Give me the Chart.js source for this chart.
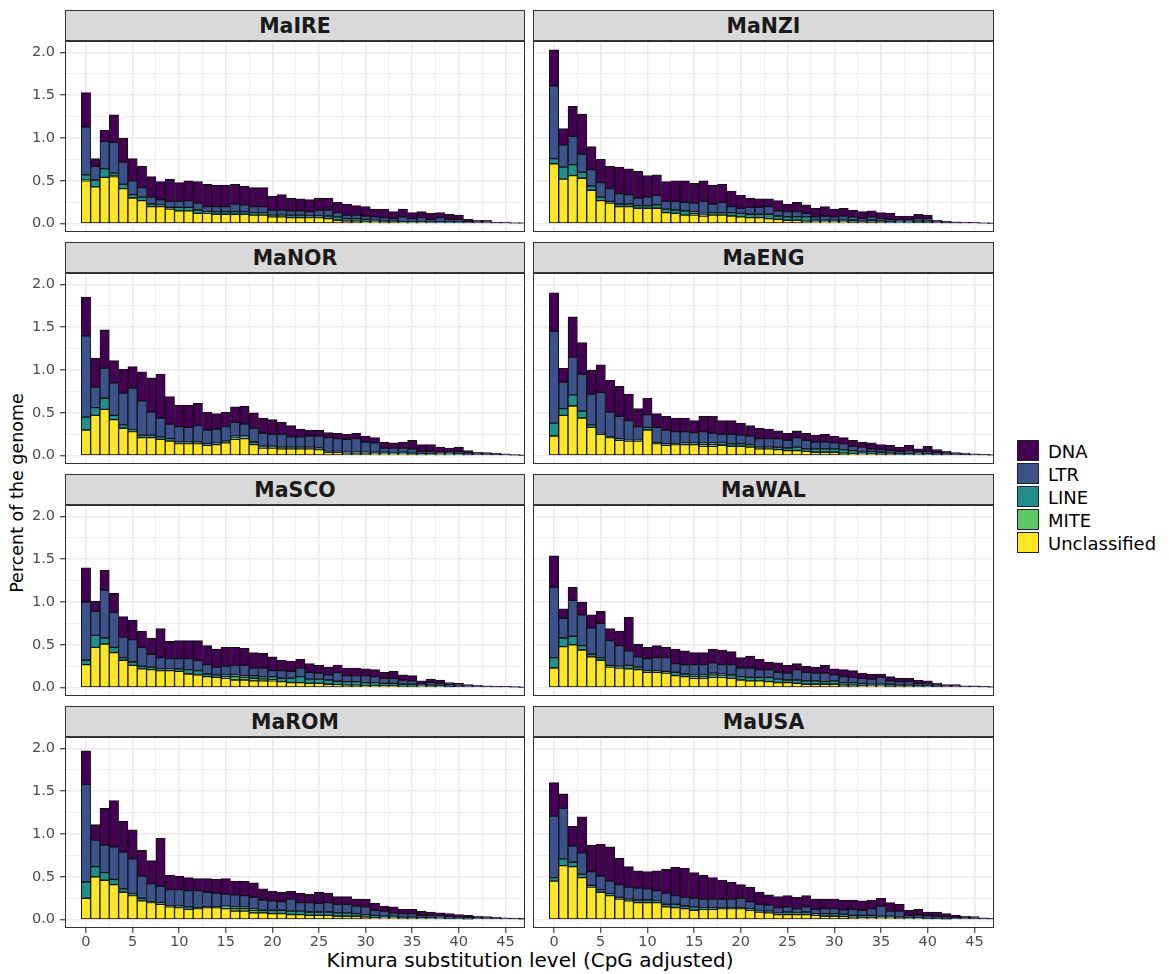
<!DOCTYPE html>
<html><head><meta charset="utf-8">
<script src="https://cdn.jsdelivr.net/npm/chart.js@4.4.1/dist/chart.umd.min.js"></script>
<style>
html,body{margin:0;padding:0;background:#fff}
body{position:relative;width:1169px;height:974px;overflow:hidden;font-family:"DejaVu Sans",sans-serif}
.strip{position:absolute;box-sizing:border-box;background:#D9D9D9;border:1px solid #333;font-weight:bold;font-size:20.5px;color:#1A1A1A;display:flex;align-items:center;justify-content:center}
canvas{position:absolute}
#ytitle{position:absolute;left:17px;top:493px;transform:translate(-50%,-50%) rotate(-90deg);white-space:nowrap;font-size:17.5px;color:#000}
#xtitle{position:absolute;left:530px;top:960px;transform:translate(-50%,-50%);white-space:nowrap;font-size:20px;color:#000}
.lbox{position:absolute;box-sizing:border-box;width:22px;height:21px;border:1px solid #222}
.ltxt{position:absolute;font-size:18px;color:#000;transform:translateY(-50%);white-space:nowrap}
</style>
</head><body>
<div id="ytitle">Percent of the genome</div>
<div id="xtitle">Kimura substitution level (CpG adjusted)</div>
<script>
const kimura = [0,1,2,3,4,5,6,7,8,9,10,11,12,13,14,15,16,17,18,19,20,21,22,23,24,25,26,27,28,29,30,31,32,33,34,35,36,37,38,39,40,41,42,43,44,45,46,47];
const seriesNames = ['DNA','LTR','LINE','MITE','Unclassified'];
const seriesColors = ['#440154','#3B528B','#21908C','#5DC863','#FDE725'];
const facetNames = ['MaIRE','MaNZI','MaNOR','MaENG','MaSCO','MaWAL','MaROM','MaUSA'];
const yTickValues = [0,0.5,1,1.5,2];
const yTickLabels = ['0.0','0.5','1.0','1.5','2.0'];
const xTickValues = [0,5,10,15,20,25,30,35,40,45];
const xTickLabels = ['0','5','10','15','20','25','30','35','40','45'];

// MaIRE
const maIRE_Unclassified = [.50,.43,.54,.55,.41,.30,.27,.20,.20,.17, .15,.15,.12,.12,.11,.11,.11,.11,.10,.10, .08,.08,.07,.07,.07,.07,.06,.04,.03,.03, .02,.02,.01,.01,.01,.01,.01,0,0,0, 0,0,0,0,0,0,0,0];
const maIRE_MITE = [.01,0,0,.01,0,0,0,0,0,0, 0,0,0,0,0,0,0,0,0,0, 0,0,0,0,0,0,0,0,0,0, 0,0,0,0,0,0,0,0,0,0, 0,0,0,0,0,0,0,0];
const maIRE_LINE = [.06,.08,.10,.03,.05,.04,.04,.03,.02,.02, .04,.04,.04,.02,.03,.03,.03,.03,.03,.03, .02,.02,.03,.03,.02,.02,.03,.04,.03,.03, .03,.02,.02,.02,.01,.01,.01,.02,.02,.02, .02,0,0,0,0,0,0,0];
const maIRE_LTR = [.56,.16,.32,.36,.26,.16,.11,.08,.06,.07, .07,.08,.08,.06,.06,.06,.09,.08,.07,.07, .06,.06,.05,.05,.05,.07,.07,.05,.04,.04, .04,.04,.04,.03,.06,.04,.05,.03,.05,.03, .03,.02,.02,.02,.01,.01,.005,.005];
const maIRE_DNA = [.40,.09,.13,.32,.28,.26,.25,.24,.21,.26, .22,.23,.25,.26,.25,.25,.23,.22,.22,.22, .16,.18,.15,.14,.14,.14,.14,.12,.13,.11, .11,.09,.10,.08,.09,.07,.07,.07,.06,.06, .05,.03,.02,.02,.01,.01,.005,.005];

// MaNZI
const maNZI_Unclassified = [.70,.52,.56,.53,.39,.27,.24,.20,.20,.18, .18,.18,.13,.12,.10,.10,.09,.10,.10,.09, .08,.07,.07,.06,.05,.04,.04,.03,.02,.02, .02,.02,.01,.01,.01,.01,0,0,0,0, 0,0,0,0,0,0,0,0];
const maNZI_MITE = [0,0,0,0,0,0,0,0,0,0, 0,0,0,0,0,.02,.02,0,0,0, 0,0,0,0,0,0,0,0,0,0, 0,0,0,0,0,0,0,0,0,0, 0,0,0,0,0,0,0,0];
const maNZI_LINE = [.06,.14,.13,.07,.05,.04,.02,.03,.03,.03, .03,.04,.04,.04,.05,.02,.01,.03,.03,.04, .04,.04,.04,.05,.04,.04,.04,.05,.02,.02, .02,.02,.03,.02,.03,.02,.02,.02,.02,.03, .03,0,0,0,0,0,0,0];
const maNZI_LTR = [.85,.26,.33,.21,.19,.17,.15,.12,.11,.09, .10,.11,.09,.10,.10,.10,.14,.10,.12,.07, .06,.08,.08,.09,.06,.06,.06,.04,.04,.05, .04,.05,.04,.03,.04,.03,.03,.02,.02,.03, .03,.02,.01,.01,.01,.008,.005,.004];
const maNZI_DNA = [.42,.19,.35,.47,.27,.27,.26,.31,.30,.31, .25,.24,.23,.24,.25,.23,.24,.22,.21,.18, .15,.11,.10,.09,.12,.09,.11,.10,.10,.11, .09,.09,.08,.08,.07,.07,.07,.05,.05,.05, .04,.02,.02,.013,.01,.007,.005,.004];

// MaNOR
const maNOR_Unclassified = [.30,.47,.54,.42,.32,.28,.21,.21,.19,.17, .14,.14,.14,.12,.13,.15,.19,.20,.13,.09, .09,.08,.08,.08,.08,.07,.04,.04,.03,.03, .03,.02,.02,.02,.02,.01,.01,.01,.01,.01, .01,0,0,0,0,0,0,0];
const maNOR_MITE = [0,0,0,0,0,0,0,0,0,0, 0,0,0,0,0,0,.02,.02,0,0, 0,0,0,0,0,0,0,0,0,0, 0,0,0,0,0,0,0,0,0,0, 0,0,0,0,0,0,0,0];
const maNOR_LINE = [.15,.09,.13,.05,.04,.02,.03,.03,.03,.03, .02,.02,.02,.02,.02,.02,.02,.01,.03,.02, .02,.02,.02,.02,.02,.02,.01,.01,.01,.01, .01,.02,.02,.01,.02,.02,.01,.01,.01,.01, .01,.01,0,0,0,0,0,0];
const maNOR_LTR = [.95,.24,.35,.38,.37,.49,.40,.27,.22,.17, .18,.17,.19,.16,.16,.17,.16,.14,.16,.15, .14,.15,.12,.12,.13,.14,.16,.15,.15,.16, .12,.11,.05,.06,.05,.05,.03,.03,.02,.02, .03,.02,.02,.015,.012,.01,.006,.004];
const maNOR_DNA = [.45,.34,.45,.26,.28,.25,.34,.40,.51,.32, .25,.26,.26,.21,.18,.17,.18,.21,.18,.18, .17,.14,.13,.09,.07,.07,.06,.06,.06,.06, .07,.06,.07,.06,.07,.10,.08,.08,.06,.05, .05,.03,.02,.02,.015,.013,.006,.004];

// MaENG
const maENG_Unclassified = [.23,.47,.58,.44,.33,.25,.21,.18,.17,.17, .30,.14,.12,.13,.13,.13,.11,.11,.12,.11, .11,.10,.08,.08,.07,.06,.06,.05,.04,.04, .04,.03,.02,.02,.02,.01,.01,0,0,0, 0,0,0,0,0,0,0,0];
const maENG_MITE = [0,0,0,0,0,0,0,0,0,0, 0,0,0,0,0,0,.02,.02,.01,0, 0,0,0,0,0,0,0,0,0,0, 0,0,0,0,0,0,0,0,0,0, 0,0,0,0,0,0,0,0];
const maENG_LINE = [.15,.08,.13,.08,.03,.01,.01,.02,.01,.01, .03,.01,.02,.01,.02,.02,.02,.02,.02,.03, .03,.03,.02,.02,.03,.03,.04,.03,.04,.04, .04,.04,.04,.02,.03,.03,.02,.02,.02,.02, .02,.01,.01,0,0,0,0,0];
const maENG_LTR = [1.07,.31,.44,.43,.36,.48,.29,.26,.23,.16, .15,.18,.16,.14,.13,.12,.13,.11,.10,.11, .10,.10,.10,.10,.10,.09,.11,.10,.08,.08, .07,.07,.05,.06,.03,.03,.03,.03,.04,.02, .03,.02,.02,.015,.013,.01,.008,.006];
const maENG_DNA = [.45,.16,.47,.37,.28,.32,.37,.35,.31,.21, .19,.16,.16,.16,.16,.14,.18,.20,.16,.16, .14,.12,.12,.11,.09,.08,.08,.08,.08,.09, .08,.07,.07,.06,.07,.06,.06,.05,.06,.04, .06,.04,.025,.02,.018,.013,.008,.006];

// MaSCO
const maSCO_Unclassified = [.27,.47,.51,.41,.32,.26,.22,.21,.20,.20, .19,.16,.15,.13,.12,.11,.09,.09,.08,.08, .08,.07,.06,.06,.05,.05,.04,.035,.03,.03, .02,.02,.02,.02,.01,.01,.01,.01,.01,0, 0,0,0,0,0,0,0,0];
const maSCO_MITE = [0,0,0,0,0,0,0,0,0,0, 0,0,0,0,0,.02,.04,.03,.03,.02, .01,0,0,0,0,0,0,0,0,0, 0,0,0,0,0,0,0,0,0,0, 0,0,0,0,0,0,0,0];
const maSCO_LINE = [.05,.14,.07,.06,.03,.04,.03,.03,.02,.02, .03,.05,.05,.03,.03,.02,.02,.02,.03,.03, .04,.04,.05,.07,.05,.05,.05,.04,.04,.04, .04,.04,.03,.03,.03,.03,.01,.02,.01,.01, 0,0,0,0,0,0,0,0];
const maSCO_LTR = [.68,.28,.56,.41,.24,.26,.22,.15,.13,.12, .12,.13,.12,.11,.09,.10,.11,.12,.09,.10, .07,.09,.08,.10,.08,.07,.06,.10,.07,.07, .08,.07,.06,.06,.05,.04,.02,.03,.03,.03, .03,.02,.015,.012,.01,.008,.006,.004];
const maSCO_DNA = [.40,.12,.23,.22,.24,.23,.19,.19,.34,.20, .21,.21,.23,.22,.21,.22,.21,.20,.18,.17, .16,.12,.12,.10,.10,.09,.09,.09,.09,.09, .08,.08,.07,.08,.06,.06,.04,.04,.04,.02, .02,.015,.012,.011,.01,.008,.006,.004];

// MaWAL
const maWAL_Unclassified = [.23,.48,.50,.44,.36,.32,.24,.23,.22,.21, .18,.18,.17,.14,.13,.11,.11,.12,.12,.11, .09,.08,.08,.07,.06,.06,.05,.04,.04,.04, .04,.03,.03,.02,.02,.02,.01,.01,.01,0, 0,0,0,0,0,0,0,0];
const maWAL_MITE = [0,0,0,0,0,0,0,0,0,0, 0,0,0,0,0,.02,.02,.03,.02,.01, 0,0,0,0,0,0,0,0,0,0, 0,0,0,0,0,0,0,0,0,0, 0,0,0,0,0,0,0,0];
const maWAL_LINE = [.12,.10,.10,.05,.03,.03,.02,.02,.04,.03, .02,.02,.02,.04,.03,.02,.02,.02,.02,.03, .04,.04,.04,.05,.04,.03,.04,.04,.04,.03, .04,.03,.03,.03,.02,.02,.03,.02,.02,.02, .02,0,0,0,0,0,0,0];
const maWAL_LTR = [.82,.23,.42,.36,.31,.40,.29,.24,.17,.12, .14,.15,.16,.10,.11,.12,.12,.12,.11,.12, .10,.11,.09,.09,.08,.08,.12,.10,.09,.10, .07,.07,.06,.06,.06,.08,.04,.04,.04,.03, .03,.03,.02,.02,.012,.012,.008,.006];
const maWAL_DNA = [.37,.11,.15,.15,.15,.14,.14,.17,.39,.15, .13,.14,.12,.17,.16,.14,.14,.16,.17,.15, .12,.14,.12,.09,.11,.09,.07,.07,.07,.09, .07,.08,.08,.06,.06,.04,.05,.04,.04,.04, .03,.025,.015,.015,.011,.011,.008,.006];

// MaROM
const maROM_Unclassified = [.25,.50,.46,.41,.32,.28,.22,.20,.18,.15, .14,.12,.13,.14,.14,.13,.10,.10,.08,.08, .07,.07,.06,.06,.05,.05,.05,.04,.04,.04, .03,.02,.02,.02,.01,.01,.01,.01,0,0, 0,0,0,0,0,0,0,0];
const maROM_MITE = [0,0,0,0,0,0,0,0,0,0, 0,0,0,0,0,.02,.03,.03,.03,0, 0,0,0,0,0,0,0,0,0,0, 0,0,0,0,0,0,0,0,0,0, 0,0,0,0,0,0,0,0];
const maROM_LINE = [.19,.12,.09,.06,.04,.02,.03,.01,.02,.01, .02,.03,.01,.01,.01,.01,.02,.02,.02,.03, .04,.04,.04,.04,.04,.04,.04,.04,.04,.03, .03,.03,.02,.02,.02,.02,.01,.01,.02,.01, .01,.005,0,0,0,0,0,0];
const maROM_LTR = [1.14,.31,.32,.38,.43,.41,.26,.21,.19,.19, .19,.19,.20,.17,.16,.14,.14,.13,.13,.12, .11,.10,.14,.10,.11,.10,.11,.10,.10,.09, .09,.06,.06,.04,.04,.04,.03,.03,.02,.025, .02,.02,.02,.015,.013,.01,.008,.007];
const maROM_DNA = [.39,.18,.43,.54,.36,.34,.30,.27,.56,.17, .16,.15,.14,.16,.16,.18,.16,.17,.17,.13, .11,.11,.09,.11,.10,.13,.11,.09,.09,.08, .09,.08,.06,.07,.05,.05,.05,.04,.04,.035, .03,.025,.023,.02,.018,.013,.012,.009];

// MaUSA
const maUSA_Unclassified = [.45,.63,.62,.49,.38,.32,.28,.24,.22,.20, .20,.20,.15,.14,.13,.11,.12,.12,.13,.13, .13,.11,.09,.08,.06,.06,.06,.06,.05,.04, .04,.035,.03,.02,.02,.02,.02,.01,.01,.01, 0,0,0,0,0,0,0,0];
const maUSA_MITE = [0,0,0,0,0,0,0,0,0,0, 0,0,0,0,0,0,0,0,0,0, 0,0,0,0,0,0,0,0,0,0, 0,0,0,0,0,0,0,0,0,0, 0,0,0,0,0,0,0,0];
const maUSA_LINE = [.04,.08,.05,.04,.02,.03,.02,.02,.02,.03, .03,.02,.03,.04,.03,.04,.02,.02,.01,.01, .01,.02,.01,.02,.02,.03,.02,.03,.02,.03, .03,.03,.02,.03,.03,.02,.02,.02,.01,.01, .01,.01,.005,0,0,0,0,0];
const maUSA_LTR = [.72,.59,.19,.25,.16,.16,.15,.15,.14,.14, .13,.12,.13,.10,.10,.10,.10,.10,.10,.10, .11,.08,.08,.07,.06,.06,.05,.06,.05,.06, .06,.05,.07,.06,.08,.12,.06,.07,.03,.035, .035,.03,.03,.025,.02,.015,.01,.008];
const maUSA_DNA = [.39,.17,.23,.42,.31,.37,.40,.31,.24,.20, .20,.23,.28,.33,.34,.30,.28,.25,.22,.20, .16,.17,.14,.12,.13,.13,.13,.13,.12,.11, .11,.11,.11,.11,.10,.09,.10,.08,.06,.065, .045,.05,.035,.03,.023,.02,.013,.008];

// stacking order bottom -> top: Unclassified, MITE, LINE, LTR, DNA
const facetSeries = [
  [maIRE_Unclassified, maIRE_MITE, maIRE_LINE, maIRE_LTR, maIRE_DNA],
  [maNZI_Unclassified, maNZI_MITE, maNZI_LINE, maNZI_LTR, maNZI_DNA],
  [maNOR_Unclassified, maNOR_MITE, maNOR_LINE, maNOR_LTR, maNOR_DNA],
  [maENG_Unclassified, maENG_MITE, maENG_LINE, maENG_LTR, maENG_DNA],
  [maSCO_Unclassified, maSCO_MITE, maSCO_LINE, maSCO_LTR, maSCO_DNA],
  [maWAL_Unclassified, maWAL_MITE, maWAL_LINE, maWAL_LTR, maWAL_DNA],
  [maROM_Unclassified, maROM_MITE, maROM_LINE, maROM_LTR, maROM_DNA],
  [maUSA_Unclassified, maUSA_MITE, maUSA_LINE, maUSA_LTR, maUSA_DNA]
];
const stackOrder = ['Unclassified','MITE','LINE','LTR','DNA'];

const near = (a, b) => Math.abs(a - b) < 1e-6;
const isMajorY = v => yTickValues.some(t => near(t, v));
const isMajorX = v => xTickValues.some(t => near(t, v));

const borderPlugin = {
  id: 'panelBorder',
  afterDraw(chart) {
    const a = chart.chartArea, ctx = chart.ctx;
    ctx.save();
    ctx.strokeStyle = '#333';
    ctx.lineWidth = 1;
    ctx.strokeRect(a.left + 0.5, a.top + 0.5, a.right - a.left - 1, a.bottom - a.top - 1);
    ctx.restore();
  }
};

function zeroPad(s) { s.paddingTop = 0; s.paddingBottom = 0; s.paddingLeft = 0; s.paddingRight = 0; }

facetNames.forEach((name, idx) => {
  const col = idx % 2, row = Math.floor(idx / 2);
  const plotLeft = col === 0 ? 65 : 533;
  const plotW = col === 0 ? 460 : 461;
  const plotTop = 41 + 232 * row;
  const plotH = 191;
  const bottomRow = row === 3;
  const axW = col === 0 ? 65 : 0;
  const axH = bottomRow ? 40 : 0;

  const strip = document.createElement('div');
  strip.className = 'strip';
  strip.style.left = plotLeft + 'px';
  strip.style.top = (10 + 232 * row) + 'px';
  strip.style.width = plotW + 'px';
  strip.style.height = '31px';
  strip.textContent = name;
  document.body.appendChild(strip);

  const cv = document.createElement('canvas');
  const cw = axW + plotW, ch = plotH + axH;
  cv.width = cw; cv.height = ch;
  cv.style.width = cw + 'px'; cv.style.height = ch + 'px';
  cv.style.left = (plotLeft - axW) + 'px';
  cv.style.top = plotTop + 'px';
  document.body.appendChild(cv);

  const datasets = stackOrder.map((s, k) => {
    const ci = seriesNames.indexOf(s);
    return {
      label: s,
      data: facetSeries[idx][k],
      backgroundColor: seriesColors[ci],
      borderColor: '#111',
      borderWidth: 1,
      borderSkipped: false,
      barPercentage: 1,
      categoryPercentage: 1,
      clip: 0
    };
  });

  new Chart(cv, {
    type: 'bar',
    data: { labels: kimura, datasets },
    options: {
      responsive: false,
      animation: false,
      devicePixelRatio: 1,
      layout: { padding: 0, autoPadding: false },
      plugins: { legend: { display: false }, tooltip: { enabled: false } },
      scales: {
        x: {
          type: 'linear', min: -2.25, max: 47.1, stacked: true, offset: false,
          border: { display: false },
          grid: {
            offset: false,
            color: '#EBEBEB',
            lineWidth: c => (c.tick && isMajorX(c.tick.value)) ? 1.5 : 0.8,
            drawTicks: bottomRow, tickLength: 5, tickWidth: 1.1,
            tickColor: c => (c.tick && isMajorX(c.tick.value)) ? '#333' : 'rgba(0,0,0,0)'
          },
          ticks: {
            display: bottomRow, stepSize: 2.5, includeBounds: false, autoSkip: false,
            maxRotation: 0, minRotation: 0, padding: 2, color: '#4D4D4D',
            font: { family: 'DejaVu Sans', size: 14.5, lineHeight: 1 },
            callback: v => { const i = xTickValues.findIndex(t => near(t, v)); return i >= 0 ? xTickLabels[i] : ''; }
          },
          afterFit: s => { s.height = axH; zeroPad(s); }
        },
        y: {
          type: 'linear', min: -0.097, max: 2.132, stacked: true,
          border: { display: false },
          grid: {
            color: '#EBEBEB',
            lineWidth: c => (c.tick && isMajorY(c.tick.value)) ? 1.5 : 0.8,
            drawTicks: col === 0, tickLength: 5, tickWidth: 1.1,
            tickColor: c => (c.tick && isMajorY(c.tick.value)) ? '#333' : 'rgba(0,0,0,0)'
          },
          ticks: {
            display: col === 0, stepSize: 0.25, includeBounds: false, autoSkip: false,
            padding: 5, color: '#4D4D4D',
            font: { family: 'DejaVu Sans', size: 14.5, lineHeight: 1 },
            callback: v => { const i = yTickValues.findIndex(t => near(t, v)); return i >= 0 ? yTickLabels[i] : ''; }
          },
          afterFit: s => { s.width = axW; zeroPad(s); }
        }
      }
    },
    plugins: [borderPlugin]
  });
});

// legend
seriesNames.forEach((s, i) => {
  const b = document.createElement('div');
  b.className = 'lbox';
  b.style.left = '1017px';
  b.style.top = (440 + 23 * i) + 'px';
  b.style.background = seriesColors[i];
  document.body.appendChild(b);
  const t = document.createElement('div');
  t.className = 'ltxt';
  t.style.left = '1048px';
  t.style.top = (450.5 + 23 * i) + 'px';
  t.textContent = s;
  document.body.appendChild(t);
});
</script>
</body></html>
